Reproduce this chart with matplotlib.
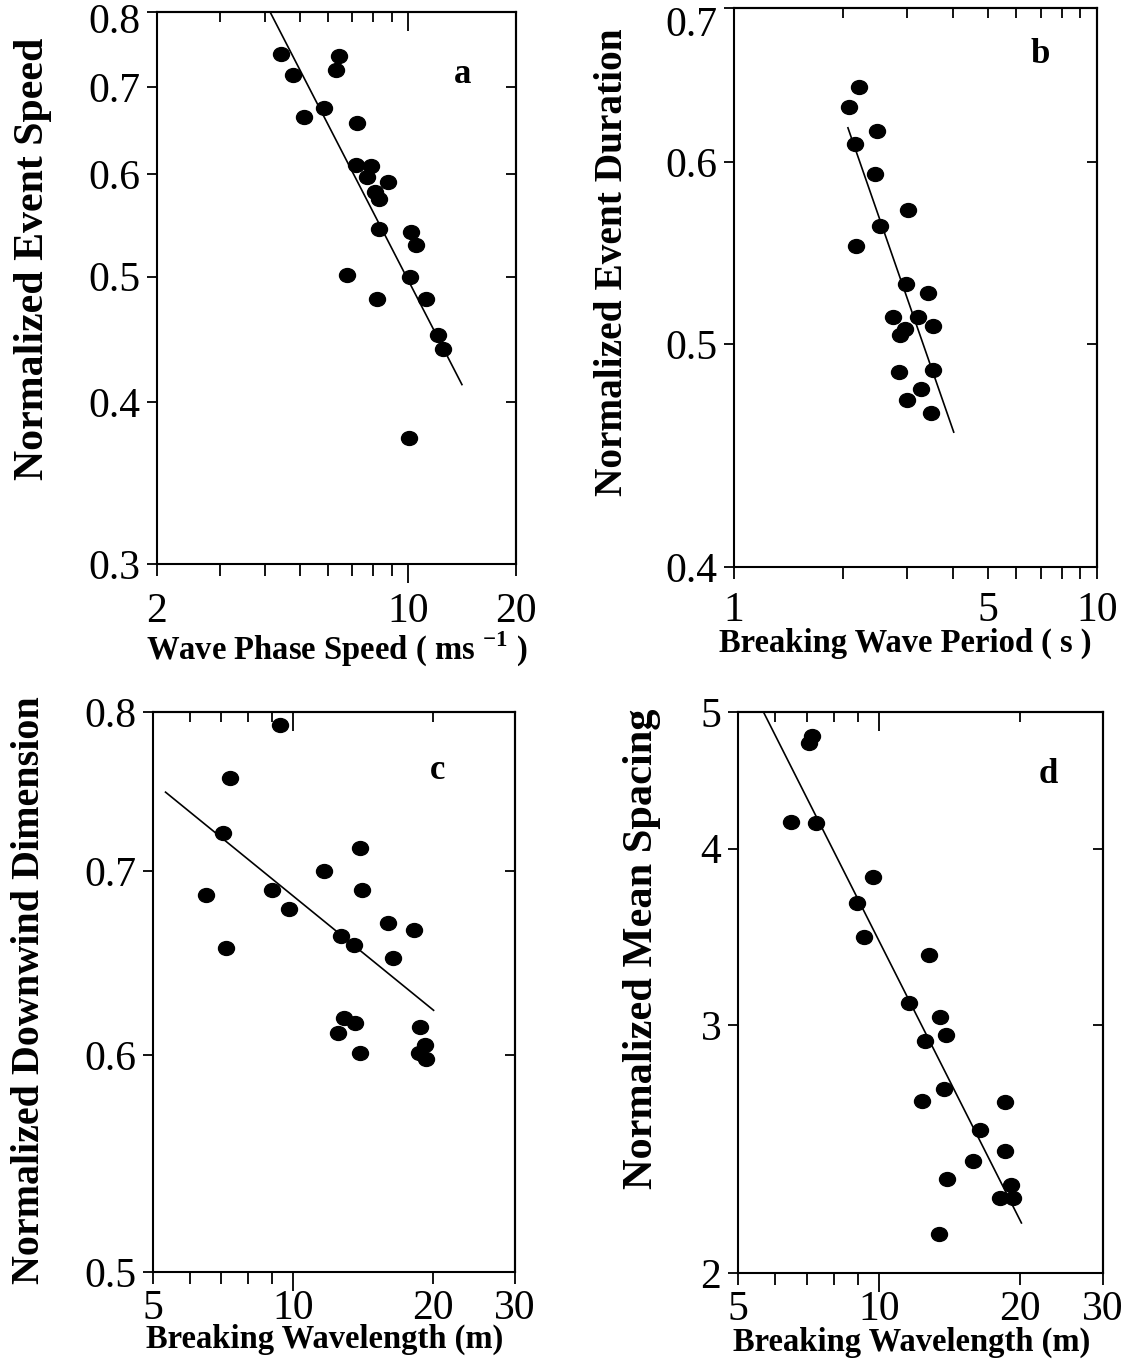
import numpy as np
import matplotlib
matplotlib.use("Agg")
import matplotlib.pyplot as plt
import matplotlib.transforms as mtransforms
from matplotlib.path import Path
from matplotlib.ticker import NullLocator, NullFormatter

plt.rcParams["font.family"] = ["Liberation Serif", "DejaVu Serif"]
plt.rcParams["mathtext.fontset"] = "custom"
plt.rcParams["mathtext.rm"] = "Liberation Serif"
plt.rcParams["mathtext.bf"] = "Liberation Serif:bold"

# ---- (a) event speed vs wave phase speed ----
a_phase_speed = [4.42, 4.77, 5.15, 5.84, 6.44, 6.32, 7.22, 7.19, 7.91, 7.69, 8.82, 8.09,
                 8.28, 8.28, 6.77, 8.19, 10.21, 10.56, 10.16, 11.26, 12.14, 12.56, 10.09]
a_event_speed = [0.742, 0.715, 0.664, 0.674, 0.740, 0.722, 0.657, 0.610, 0.609, 0.597, 0.591,
                 0.581, 0.574, 0.544, 0.5015, 0.480, 0.541, 0.529, 0.4996, 0.480, 0.4505,
                 0.4394, 0.375]
a_fit = (1.716, -0.538)          # prefactor, exponent
a_fit_range = (4.0, 14.14)

# ---- (b) event duration vs breaking wave period ----
b_period = [2.07, 2.21, 2.16, 2.48, 2.44, 3.02, 2.53, 2.17, 2.97, 3.43, 2.75, 3.22,
            3.53, 2.95, 2.87, 2.85, 3.53, 3.27, 3.00, 3.49]
b_duration = [0.634, 0.647, 0.611, 0.619, 0.593, 0.572, 0.563, 0.5515, 0.531, 0.526,
              0.514, 0.514, 0.509, 0.5075, 0.5044, 0.486, 0.487, 0.478, 0.473, 0.4666]
b_fit = (0.862, -0.454)
b_fit_range = (2.06, 4.03)

# ---- (c) downwind dimension vs breaking wavelength ----
c_wavelength = [9.37, 7.33, 7.07, 6.50, 7.16, 9.01, 9.79, 11.65, 13.90, 14.10, 12.68, 13.53,
                16.01, 16.44, 18.22, 12.84, 12.50, 13.61, 13.95, 18.71, 18.61, 19.18, 19.35]
c_downwind = [0.791, 0.757, 0.7227, 0.686, 0.656, 0.689, 0.678, 0.700, 0.714, 0.689, 0.663,
              0.658, 0.670, 0.651, 0.666, 0.619, 0.611, 0.616, 0.601, 0.614, 0.601, 0.605,
              0.598]
c_fit = (0.942, -0.138)
c_fit_range = (5.32, 20.05)

# ---- (d) mean spacing vs breaking wavelength ----
d_wavelength = [7.19, 7.10, 6.49, 7.33, 9.69, 8.97, 9.29, 12.80, 11.59, 13.48, 13.85, 12.50,
                13.73, 12.33, 18.50, 16.43, 18.50, 15.88, 13.98, 19.14, 18.07, 19.25, 13.44]
d_spacing = [4.81, 4.75, 4.18, 4.17, 3.82, 3.66, 3.46, 3.36, 3.11, 3.04, 2.95, 2.92, 2.70,
             2.65, 2.645, 2.525, 2.44, 2.40, 2.33, 2.31, 2.26, 2.26, 2.13]
d_fit = (15.68, -0.659)
d_fit_range = (5.5, 20.1)

W, H = 1133, 1365
fig = plt.figure(figsize=(W / 100, H / 100), dpi=100)
fig.patch.set_facecolor("white")


def box(left, top, right, bottom):
    return [left / W, 1 - bottom / H, (right - left) / W, (bottom - top) / H]


# slightly flattened filled dot
ellipse = Path.unit_circle().transformed(mtransforms.Affine2D().scale(1.15, 1.0))

TICK_FS = 30
LW = 1.3


def panel(rect, x, y, fit, fit_range, xlim, ylim, xmajor, xminor, xminor_labels,
          yticks, ytick_labels, xlabel, ylabel, letter, xlabel_pos, ylabel_pos, letter_pos,
          ylabel_fs, xpad_extra, top_label_drop):
    ax = fig.add_axes(box(*rect))
    ax.set_xscale("log")
    ax.set_yscale("log")
    ax.set_xlim(*xlim)
    ax.set_ylim(*ylim)

    ax.plot(x, y, linestyle="none", marker=ellipse, markersize=11.5,
            color="black", zorder=3)
    xf = np.geomspace(fit_range[0], fit_range[1], 50)
    ax.plot(xf, fit[0] * xf ** fit[1], color="black", lw=1.2, zorder=2)

    ax.set_xticks(xmajor, [str(v) for v in xmajor])
    ax.set_xticks(xminor, xminor_labels, minor=True)
    ax.set_yticks(yticks, ytick_labels)
    ax.yaxis.set_minor_locator(NullLocator())

    ax.tick_params(axis="x", which="major", direction="out", length=14, width=LW,
                   pad=3 + xpad_extra, labelsize=TICK_FS)
    ax.tick_params(axis="x", which="minor", direction="out", length=8.5, width=LW,
                   pad=8.5 + xpad_extra, labelsize=TICK_FS)
    ax.tick_params(axis="y", which="major", direction="out", length=7, width=LW,
                   pad=5, labelsize=TICK_FS)
    for s in ax.spines.values():
        s.set_linewidth(1.5)

    # nudge the uppermost y tick label downward
    if top_label_drop:
        lab = ax.yaxis.get_major_ticks()[-1].label1
        lab.set_transform(lab.get_transform() + mtransforms.ScaledTranslation(
            0, -top_label_drop / 100, fig.dpi_scale_trans))

    # inward ticks on the top and right edges
    top = ax.secondary_xaxis("top")
    top.set_xticks(xmajor)
    top.set_xticks(xminor, minor=True)
    top.xaxis.set_major_formatter(NullFormatter())
    top.xaxis.set_minor_formatter(NullFormatter())
    top.tick_params(which="major", direction="in", length=14, width=LW)
    top.tick_params(which="minor", direction="in", length=7, width=LW)
    top.spines["top"].set_linewidth(1.5)

    right = ax.secondary_yaxis("right")
    right.set_yticks(yticks)
    right.yaxis.set_minor_locator(NullLocator())
    right.yaxis.set_major_formatter(NullFormatter())
    right.tick_params(which="major", direction="in", length=7, width=LW)
    right.spines["right"].set_linewidth(1.5)

    ax.set_xlabel(xlabel, fontsize=23.5, fontweight="bold", va="center")
    ax.xaxis.set_label_coords(*xlabel_pos)
    ax.set_ylabel(ylabel, fontsize=ylabel_fs, fontweight="bold", va="center")
    ax.yaxis.set_label_coords(*ylabel_pos)

    ax.text(letter_pos[0], letter_pos[1], letter, transform=ax.transAxes,
            fontsize=25, fontweight="bold", ha="center", va="center")
    return ax


panel((157, 12, 516, 564), a_phase_speed, a_event_speed, a_fit, a_fit_range,
      (2, 20), (0.3, 0.8), [10], [2, 3, 4, 5, 6, 7, 8, 9, 20],
      ["2", "", "", "", "", "", "", "", "20"],
      [0.3, 0.4, 0.5, 0.6, 0.7, 0.8], ["0.3", "0.4", "0.5", "0.6", "0.7", "0.8"],
      r"Wave Phase Speed ( ms $^{\mathbf{-1}}$ )", "Normalized Event Speed", "a",
      (0.50, -0.154), (-0.345, 0.553), (0.85, 0.886),
      30.2, 3.5, 6)

panel((734, 8, 1097, 567), b_period, b_duration, b_fit, b_fit_range,
      (1, 10), (0.4, 0.7), [], [1, 2, 3, 4, 5, 6, 7, 8, 9, 10],
      ["1", "", "", "", "5", "", "", "", "", "10"],
      [0.4, 0.5, 0.6, 0.7], ["0.4", "0.5", "0.6", "0.7"],
      "Breaking Wave Period ( s )", "Normalized Event Duration", "b",
      (0.471, -0.136), (-0.336, 0.546), (0.843, 0.916),
      28.4, 0.5, 13)

panel((153, 712, 515, 1272), c_wavelength, c_downwind, c_fit, c_fit_range,
      (5, 30), (0.5, 0.8), [10], [5, 6, 7, 8, 9, 20, 30],
      ["5", "", "", "", "", "20", "30"],
      [0.5, 0.6, 0.7, 0.8], ["0.5", "0.6", "0.7", "0.8"],
      "Breaking Wavelength (m)", "Normalized Downwind Dimension", "c",
      (0.475, -0.121), (-0.340, 0.504), (0.785, 0.896),
      28.8, -4.5, 0)

panel((738, 712, 1103, 1273), d_wavelength, d_spacing, d_fit, d_fit_range,
      (5, 30), (2, 5), [10], [5, 6, 7, 8, 9, 20, 30],
      ["5", "", "", "", "", "20", "30"],
      [2, 3, 4, 5], ["2", "3", "4", "5"],
      "Breaking Wavelength (m)", "Normalized Mean Spacing", "d",
      (0.477, -0.123), (-0.263, 0.578), (0.849, 0.888),
      30.5, -4.5, 0)

fig.savefig("out.png", dpi=100, facecolor="white")
